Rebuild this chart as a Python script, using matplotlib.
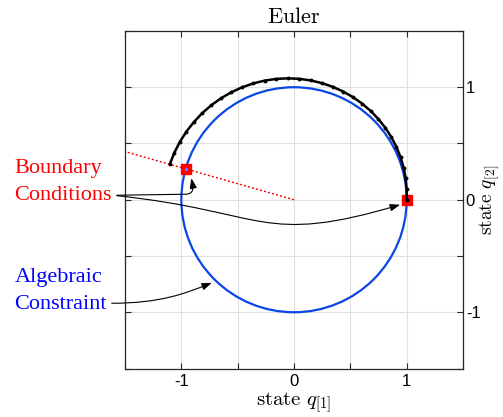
import numpy as np
import matplotlib
matplotlib.use('Agg')
import matplotlib.pyplot as plt
from matplotlib.patches import Circle, FancyArrowPatch
from matplotlib.path import Path

plt.rcParams['font.family'] = ['Liberation Sans', 'DejaVu Sans']
plt.rcParams['mathtext.fontset'] = 'cm'
plt.rcParams['axes.unicode_minus'] = False

# Euler trajectory (starts at (1, 0), spirals outwards)
traj_x = [1.0000, 1.0000, 0.9909, 0.9725, 0.9452, 0.9089, 0.8639, 0.8105, 0.7494,
          0.6808, 0.6054, 0.5237, 0.4365, 0.3444, 0.2485, 0.1492, 0.0477, -0.0550,
          -0.1584, -0.2611, -0.3624, -0.4614, -0.5569, -0.6485, -0.7349, -0.8153,
          -0.8882, -0.9547, -1.0128, -1.0621, -1.1021]
traj_y = [0.0000, 0.0957, 0.1913, 0.2862, 0.3792, 0.4697, 0.5567, 0.6394, 0.7169,
          0.7887, 0.8538, 0.9117, 0.9618, 1.0036, 1.0365, 1.0603, 1.0746, 1.0792,
          1.0739, 1.0588, 1.0338, 0.9991, 0.9549, 0.9016, 0.8395, 0.7691, 0.6912,
          0.6064, 0.5150, 0.4182, 0.3165]

# boundary condition points
bc_x = [1.0, -0.961]
bc_y = [0.0, 0.276]

# dotted line from the origin to the left edge
ray_x = [0.0, -1.5]
ray_y = [0.0, 0.428]

# algebraic constraint: unit circle
constraint_radius = 1.0

ticks = [-1.5, -1, -0.5, 0, 0.5, 1, 1.5]
tick_labels = ['', '-1', '', '0', '', '1', '']

circle_blue = '#0a46e6'

fig = plt.figure(figsize=(5.03, 4.17), dpi=100)
ax = fig.add_axes([0.2485, 0.1163, 0.672, 0.8094])

ax.add_patch(Circle((0, 0), constraint_radius, fill=False, ec=circle_blue, lw=1.6, zorder=2))
ax.plot(ray_x, ray_y, color='red', lw=1.0, linestyle=(0, (1.5, 1.5)), zorder=2)
ax.plot(bc_x, bc_y, 's', ms=7, color='red', mec='red', zorder=3)
ax.plot(bc_x[1], bc_y[1], 'o', ms=1.5, color='#7070ff', zorder=4)
ax.plot(traj_x, traj_y, '-o', color='black', lw=1.8, ms=1.8, zorder=4)

ax.set_xlim(-1.5, 1.5)
ax.set_ylim(-1.5, 1.5)
ax.set_xticks(ticks)
ax.set_xticklabels(tick_labels)
ax.set_yticks(ticks)
ax.set_yticklabels(tick_labels)
ax.grid(True, color='#e0e0e0', lw=0.8)
ax.set_axisbelow(True)

for s in ax.spines.values():
    s.set_color('#262626')
    s.set_linewidth(0.9)

ax.yaxis.tick_right()
ax.yaxis.set_label_position('right')
ax.tick_params(direction='in', length=4, width=0.8, color='#262626',
               top=True, bottom=True, left=True, right=True,
               labelleft=False, labelright=True, labelsize=12)
ax.tick_params(axis='x', pad=4)
ax.tick_params(axis='y', pad=2)

ax.set_title(r'$\mathrm{Euler}$', fontsize=16, pad=6)
ax.set_xlabel(r'$\mathrm{state}\ q_{[1]}$', fontsize=15, labelpad=1)
ax.set_ylabel(r'$\mathrm{state}\ q_{[2]}$', fontsize=14)
ax.yaxis.set_label_coords(1.042, 0.5)

# annotations in the left margin
ax.text(-2.48, 0.0, 'Boundary\nConditions', color='red', fontsize=16,
        family='Liberation Serif', ha='left', va='baseline', linespacing=1.55,
        clip_on=False)
ax.text(-2.48, -0.969, 'Algebraic\nConstraint', color='blue', fontsize=16,
        family='Liberation Serif', ha='left', va='baseline', linespacing=1.55,
        clip_on=False)


def curved_arrow(verts, codes):
    arr = FancyArrowPatch(path=Path(verts, codes),
                          arrowstyle='-|>,head_length=0.5,head_width=0.18',
                          mutation_scale=12, color='black', lw=0.8,
                          clip_on=False, zorder=5)
    ax.add_patch(arr)


# to the left boundary point
curved_arrow([(-1.573, 0.040), (-0.969, 0.049), (-0.907, 0.049), (-0.893, 0.080),
              (-0.898, 0.124), (-0.911, 0.191)],
             [Path.MOVETO, Path.LINETO, Path.CURVE4, Path.CURVE4, Path.CURVE4, Path.LINETO])
# to the right boundary point
curved_arrow([(-1.573, 0.036), (-0.249, -0.104), (-0.293, -0.413), (0.942, -0.044)],
             [Path.MOVETO, Path.CURVE4, Path.CURVE4, Path.CURVE4])
# to the constraint
curved_arrow([(-1.618, -0.920), (-1.191, -0.920), (-0.969, -0.836), (-0.729, -0.738)],
             [Path.MOVETO, Path.CURVE4, Path.CURVE4, Path.CURVE4])

ax.set_xlim(-1.5, 1.5)
ax.set_ylim(-1.5, 1.5)

fig.savefig('out.png', dpi=100)
